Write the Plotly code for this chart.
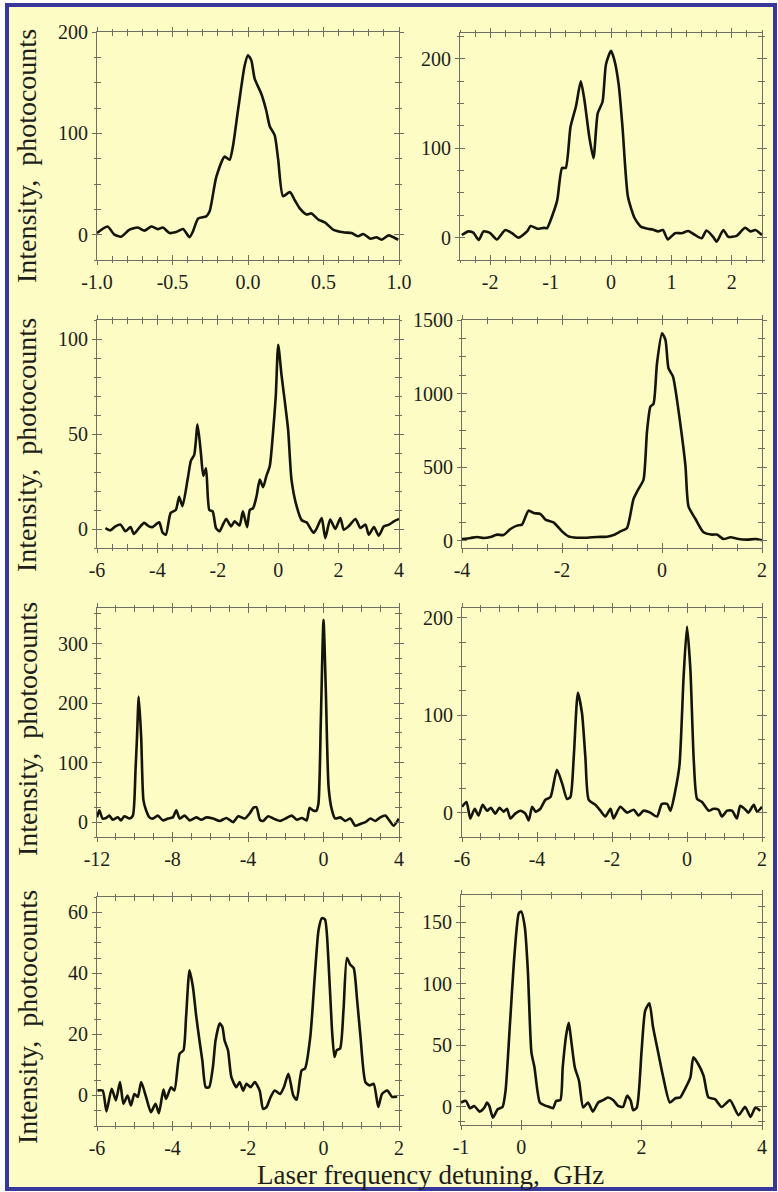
import plotly.graph_objects as go

# ---------------- data ----------------
p1_x = [-1.0,-0.93,-0.885,-0.84,-0.785,-0.73,-0.686,-0.64,-0.597,-0.564,-0.52,-0.476,-0.43,-0.387,-0.365,-0.33,-0.277,-0.254,-0.21,-0.155,-0.122,-0.1,-0.066,-0.022,0.0,0.022,0.044,0.088,0.12,0.144,0.177,0.2,0.232,0.277,0.31,0.343,0.387,0.42,0.465,0.51,0.564,0.63,0.686,0.73,0.763,0.81,0.85,0.885,0.93,0.96,0.995]
p1_y = [1.6,8,0,-2,5,7,4,8,5.5,7,1.6,2.6,5.5,-2.6,3,16,18,23,57,77,74,87,123,167,177,172,154,139,123,107,98,74,38,42,34,26,20,21,15,12,5,2.3,1.6,-1.6,0.7,-4,-2.6,-5,-0.7,-2.3,-5]

p2_x = [-2.47,-2.36,-2.28,-2.19,-2.11,-2.0,-1.89,-1.75,-1.64,-1.53,-1.39,-1.33,-1.22,-1.11,-1.06,-0.97,-0.89,-0.81,-0.75,-0.67,-0.58,-0.5,-0.44,-0.36,-0.29,-0.22,-0.14,-0.083,0.0,0.055,0.128,0.19,0.28,0.39,0.5,0.61,0.69,0.78,0.86,0.94,1.06,1.17,1.28,1.39,1.5,1.58,1.69,1.75,1.86,1.94,2.08,2.22,2.31,2.39,2.5]
p2_y = [3,7,5.6,-2.6,7,5,-2,8.6,5,0,7,13,10,11,10.5,25,42,78,78,124,147,175,154,113,89,139,152,194,209,199,171,124,46,22,12,10,9,7,8.6,-2,5,5,7.5,3,-0.7,8,1,-4.5,8.6,1,2,11,7,8.6,3]

p3_x = [-5.72,-5.56,-5.39,-5.22,-5.06,-4.89,-4.78,-4.61,-4.44,-4.28,-4.17,-3.94,-3.83,-3.72,-3.56,-3.39,-3.28,-3.17,-3.0,-2.89,-2.78,-2.67,-2.56,-2.48,-2.39,-2.28,-2.17,-2.06,-1.94,-1.83,-1.72,-1.56,-1.44,-1.28,-1.17,-1.03,-0.94,-0.83,-0.72,-0.61,-0.5,-0.39,-0.28,-0.17,-0.08,0.0,0.11,0.22,0.33,0.44,0.61,0.78,0.94,1.17,1.28,1.44,1.56,1.72,1.89,2.06,2.17,2.33,2.56,2.72,2.89,3.0,3.17,3.33,3.5,3.67,3.83,4.0]
p3_y = [0.5,-0.7,1.4,2.3,-1.2,1,-2.6,0.5,3.2,1.4,1,3.5,-1.8,-3,8.5,10,17,12,26,36,39,55,40,28,32,10,9.3,0.5,-1.2,2.3,5.3,1.4,4,1.8,9.3,1,10,11,17,26,22,28,33,51,70,97,81,67,52,26,12,4.6,3.5,-2,0.5,5.8,-4.8,5,0,5.8,-0.4,1.4,5.3,0.5,2.3,-3,1,-3.5,1.4,2.3,4,5.3]

p4_x = [-4,-3.83,-3.7,-3.57,-3.43,-3.3,-3.17,-3.03,-2.9,-2.8,-2.67,-2.57,-2.43,-2.33,-2.17,-2.0,-1.87,-1.7,-1.5,-1.3,-1.1,-0.97,-0.83,-0.7,-0.57,-0.47,-0.37,-0.3,-0.23,-0.17,-0.1,0,0.07,0.13,0.22,0.3,0.4,0.47,0.53,0.67,0.83,1.0,1.1,1.23,1.37,1.53,1.7,1.87,2.0]
p4_y = [11,18,25,18,25,41,38,79,102,109,204,188,181,143,124,63,29,20,20,25,27,38,63,86,283,351,414,742,912,930,1206,1410,1364,1172,1115,957,708,505,233,147,57,41,41,11,23,11,7,11,2]

p5_x = [-12,-11.88,-11.7,-11.52,-11.35,-11.17,-10.9,-10.73,-10.55,-10.28,-10.1,-9.96,-9.88,-9.79,-9.66,-9.54,-9.4,-9.22,-9.04,-8.78,-8.51,-8.24,-7.98,-7.8,-7.62,-7.36,-7.09,-6.74,-6.47,-6.21,-5.85,-5.5,-5.14,-4.79,-4.52,-4.17,-3.9,-3.72,-3.55,-3.37,-3.19,-2.93,-2.66,-2.3,-1.95,-1.68,-1.42,-1.15,-0.89,-0.74,-0.57,-0.39,-0.27,-0.14,0,0.12,0.27,0.44,0.62,0.89,1.15,1.42,1.68,1.95,2.22,2.48,2.75,3.01,3.28,3.46,3.72,3.99]
p5_y = [8,20,6,7,11,4,8,3,10,6,11,87,143,211,143,37,20,8,6,11,3,6,8,20,6,11,3,8,4,8,6,2,7,0,10,6,15,24,25,4,2,10,6,2,7,11,4,7,3,24,20,19,31,172,340,225,59,21,6,8,2,6,-6,-3,0,6,2,8,11,4,-6,6]

p6_x = [-6,-5.88,-5.78,-5.66,-5.56,-5.45,-5.33,-5.23,-5.11,-5.0,-4.89,-4.8,-4.71,-4.58,-4.44,-4.31,-4.22,-4.13,-4.04,-3.91,-3.78,-3.64,-3.47,-3.33,-3.2,-3.11,-3.02,-2.91,-2.8,-2.71,-2.62,-2.44,-2.31,-2.18,-2.04,-1.96,-1.78,-1.6,-1.42,-1.29,-1.16,-0.98,-0.8,-0.67,-0.53,-0.44,-0.31,-0.2,-0.09,0,0.09,0.18,0.27,0.4,0.58,0.71,0.84,0.93,1.07,1.2,1.33,1.42,1.56,1.64,1.78,1.87,2.0]
p6_y = [6,11,-6,4,-3,8,2,5,-1,5,1,4,-6,-1,2,-1,-8,6,1,4,13,16,44,30,14,16,57,123,102,57,13,8,2,-4,4,-6,6,0,3,-3,2,0,-4,9,9,2,23,49,140,191,147,54,14,11,2,4,3,-4,2,2,-6,7,3,0,8,1,6]

p7_x = [-5.99,-5.85,-5.75,-5.61,-5.5,-5.39,-5.3,-5.19,-5.1,-5.01,-4.92,-4.83,-4.7,-4.57,-4.45,-4.36,-4.24,-4.17,-4.04,-3.95,-3.81,-3.71,-3.64,-3.55,-3.46,-3.37,-3.28,-3.21,-3.12,-3.03,-2.93,-2.86,-2.75,-2.68,-2.62,-2.53,-2.44,-2.31,-2.22,-2.13,-2.04,-1.93,-1.82,-1.69,-1.6,-1.51,-1.4,-1.29,-1.15,-1.05,-0.93,-0.8,-0.71,-0.58,-0.49,-0.35,-0.22,-0.13,-0.04,0.04,0.13,0.22,0.29,0.35,0.44,0.53,0.62,0.71,0.8,0.89,0.98,1.11,1.22,1.33,1.45,1.55,1.69,1.82,1.95]
p7_y = [1.6,1.6,-5.2,2.2,-1.6,4.4,-2.7,0,-3.3,0.5,-0.5,4.4,-0.5,-5.5,-2.7,-5.8,1.9,-1.1,2.7,1.6,13.7,14.8,25.8,41,35.6,25.8,17.5,11.5,2.7,2.7,9.3,18,23.6,22.5,18,14.8,6,2.7,4.4,1.6,3.8,2.7,4.4,1.6,-4.4,-3.8,-0.5,1.6,0.5,2.7,7.1,0,-1.4,8.2,8.8,19.2,41,54.3,58.1,57.6,44.4,22.5,12.6,14.8,15.4,28,45,42.8,41.7,31.3,19.2,4.4,3.3,3.8,-3.8,0.5,1.6,-0.5,-0.3]

p8_x = [-1.0,-0.92,-0.85,-0.78,-0.69,-0.61,-0.57,-0.53,-0.47,-0.39,-0.31,-0.26,-0.19,-0.11,-0.04,0,0.06,0.11,0.17,0.22,0.31,0.39,0.47,0.53,0.58,0.65,0.69,0.75,0.79,0.83,0.89,0.96,1.03,1.11,1.19,1.28,1.36,1.44,1.53,1.61,1.69,1.76,1.82,1.86,1.92,2.0,2.06,2.13,2.19,2.28,2.36,2.47,2.56,2.64,2.72,2.81,2.86,2.94,3.03,3.11,3.22,3.33,3.47,3.61,3.72,3.81,3.89,3.97]
p8_y = [3.3,4.6,-1.4,0.5,-4.1,-0.8,3.3,0.5,-9,-2.2,-0.3,12.8,64.6,124.5,157,158.6,146,111,44,32,3.3,1,-0.3,-1.4,4.6,5.2,32,59,68,54,32,21,-0.8,3.3,-4.1,3.3,5.2,7.4,5.2,0.5,-0.3,8.7,4.6,-3,-0.8,45.5,78,84,64.6,42.8,23.7,3.3,6.8,7.4,14.2,23.7,40,34.6,25,7.4,6,-0.3,5.2,-7,-0.3,-8.4,-0.8,-3.5]

# tick values / labels
p1_xticks = [-1.0, -0.5, 0.0, 0.5, 1.0]
p1_xlabels = ["-1.0", "-0.5", "0.0", "0.5", "1.0"]
p1_yticks = [0, 100, 200]
p2_xticks = [-2, -1, 0, 1, 2]
p2_xlabels = ["-2", "-1", "0", "1", "2"]
p2_yticks = [0, 100, 200]
p3_xticks = [-6, -4, -2, 0, 2, 4]
p3_xlabels = ["-6", "-4", "-2", "0", "2", "4"]
p3_yticks = [0, 50, 100]
p4_xticks = [-4, -2, 0, 2]
p4_xlabels = ["-4", "-2", "0", "2"]
p4_yticks = [0, 500, 1000, 1500]
p5_xticks = [-12, -8, -4, 0, 4]
p5_xlabels = ["-12", "-8", "-4", "0", "4"]
p5_yticks = [0, 100, 200, 300]
p6_xticks = [-6, -4, -2, 0, 2]
p6_xlabels = ["-6", "-4", "-2", "0", "2"]
p6_yticks = [0, 100, 200]
p7_xticks = [-6, -4, -2, 0, 2]
p7_xlabels = ["-6", "-4", "-2", "0", "2"]
p7_yticks = [0, 20, 40, 60]
p8_xticks = [-1, 0, 2, 4]
p8_xlabels = ["-1", "0", "2", "4"]
p8_yticks = [0, 50, 100, 150]

y_title = "Intensity,\u00a0\u00a0photocounts"
x_title = "Laser frequency detuning,\u00a0\u00a0GHz"

# ---------------- layout helpers ----------------
W, H = 778, 1192
BG = "#FCFCC4"
AX = "#6E6E62"
TXT = "#1E1E1A"
FONT = "Liberation Serif, Times New Roman, serif"


def fx(px):
    return px / W


def fy(py):
    return 1 - py / H


panels = [
    dict(x=p1_x, y=p1_y, xr=[-1, 1], yr=[-25, 200], xt=p1_xticks, xl=p1_xlabels, xm=0.1, yt=p1_yticks, ym=25, box=(97, 399, 32, 260)),
    dict(x=p2_x, y=p2_y, xr=[-2.5, 2.5], yr=[-25, 229], xt=p2_xticks, xl=p2_xlabels, xm=0.25, yt=p2_yticks, ym=25, box=(460, 762, 33, 260)),
    dict(x=p3_x, y=p3_y, xr=[-6, 4], yr=[-10, 110], xt=p3_xticks, xl=p3_xlabels, xm=0.5, yt=p3_yticks, ym=10, box=(97, 399, 320, 548)),
    dict(x=p4_x, y=p4_y, xr=[-4, 2], yr=[-50, 1500], xt=p4_xticks, xl=p4_xlabels, xm=0.5, yt=p4_yticks, ym=125, box=(462, 762, 320, 548)),
    dict(x=p5_x, y=p5_y, xr=[-12, 4], yr=[-25, 360], xt=p5_xticks, xl=p5_xlabels, xm=1, yt=p5_yticks, ym=25, box=(97, 399, 608, 837)),
    dict(x=p6_x, y=p6_y, xr=[-6, 2], yr=[-25, 210], xt=p6_xticks, xl=p6_xlabels, xm=0.5, yt=p6_yticks, ym=25, box=(462, 762, 608, 837)),
    dict(x=p7_x, y=p7_y, xr=[-6, 2], yr=[-10, 65], xt=p7_xticks, xl=p7_xlabels, xm=0.5, yt=p7_yticks, ym=5, box=(97, 399, 897, 1126)),
    dict(x=p8_x, y=p8_y, xr=[-1, 4], yr=[-15, 172], xt=p8_xticks, xl=p8_xlabels, xm=0.5, yt=p8_yticks, ym=12.5, box=(461, 762, 895, 1125)),
]

fig = go.Figure()
layout = {}
tickfont = dict(family=FONT, size=20, color=TXT)
N = len(panels)

for i, p in enumerate(panels):
    n = i + 1
    m = n + N
    x0, x1, y0, y1 = p["box"]
    fig.add_trace(go.Scatter(
        x=p["x"], y=p["y"], xaxis=f"x{n}", yaxis=f"y{n}", mode="lines",
        line=dict(color="#141408", width=2.6, shape="spline", smoothing=0.6),
        showlegend=False, hoverinfo="skip"))
    # empty trace so the overlay (inside ticks) axes are drawn
    fig.add_trace(go.Scatter(x=[None], y=[None], xaxis=f"x{m}", yaxis=f"y{m}",
                             mode="lines", showlegend=False, hoverinfo="skip"))
    common = dict(showgrid=False, zeroline=False, showline=True, linecolor=AX,
                  linewidth=1, tickcolor=AX, tickwidth=1, mirror="ticks",
                  automargin=False, fixedrange=True)
    layout[f"xaxis{n}"] = dict(
        common, domain=[fx(x0), fx(x1)], anchor=f"y{n}", range=p["xr"],
        tickmode="array", tickvals=p["xt"], ticktext=p["xl"],
        ticks="outside", ticklen=4, tickfont=tickfont,
        minor=dict(tick0=0, dtick=p["xm"], ticks="outside", ticklen=2, tickcolor=AX))
    layout[f"yaxis{n}"] = dict(
        common, domain=[fy(y1), fy(y0)], anchor=f"x{n}", range=p["yr"],
        tickmode="array", tickvals=p["yt"], ticktext=[str(v) for v in p["yt"]],
        ticks="outside", ticklen=4, tickfont=tickfont,
        minor=dict(tick0=0, dtick=p["ym"], ticks="outside", ticklen=2, tickcolor=AX))
    layout[f"xaxis{m}"] = dict(
        common, overlaying=f"x{n}", anchor=f"y{m}", range=p["xr"],
        tickmode="array", tickvals=p["xt"], showticklabels=False,
        ticks="inside", ticklen=5,
        minor=dict(tick0=0, dtick=p["xm"], ticks="inside", ticklen=4, tickcolor=AX))
    layout[f"yaxis{m}"] = dict(
        common, overlaying=f"y{n}", anchor=f"x{m}", range=p["yr"],
        tickmode="array", tickvals=p["yt"], showticklabels=False,
        ticks="inside", ticklen=5,
        minor=dict(tick0=0, dtick=p["ym"], ticks="inside", ticklen=4, tickcolor=AX))

annotations = []
for cy in [156, 445, 729, 1017]:
    annotations.append(dict(
        text=y_title, x=fx(27), y=fy(cy), xref="paper", yref="paper",
        xanchor="center", yanchor="middle", textangle=-90, showarrow=False,
        font=dict(family=FONT, size=28, color=TXT)))
annotations.append(dict(
    text=x_title, x=fx(430), y=fy(1175), xref="paper", yref="paper",
    xanchor="center", yanchor="middle", showarrow=False,
    font=dict(family=FONT, size=27, color=TXT)))

shapes = [dict(type="rect", xref="paper", yref="paper", x0=fx(7), x1=fx(775),
               y0=fy(1189), y1=fy(5), line=dict(color="#38389C", width=4),
               fillcolor=BG, layer="below")]

fig.update_layout(
    template="none",
    width=W, height=H, autosize=False,
    margin=dict(l=0, r=0, t=0, b=0, pad=0, autoexpand=False),
    paper_bgcolor="white", plot_bgcolor="rgba(0,0,0,0)",
    annotations=annotations, shapes=shapes, showlegend=False,
    **layout)

fig.write_html("out.html", config={"responsive": False, "displayModeBar": False},
               post_script="document.body.style.margin='0';document.body.style.padding='0';document.body.style.overflow='hidden';")
